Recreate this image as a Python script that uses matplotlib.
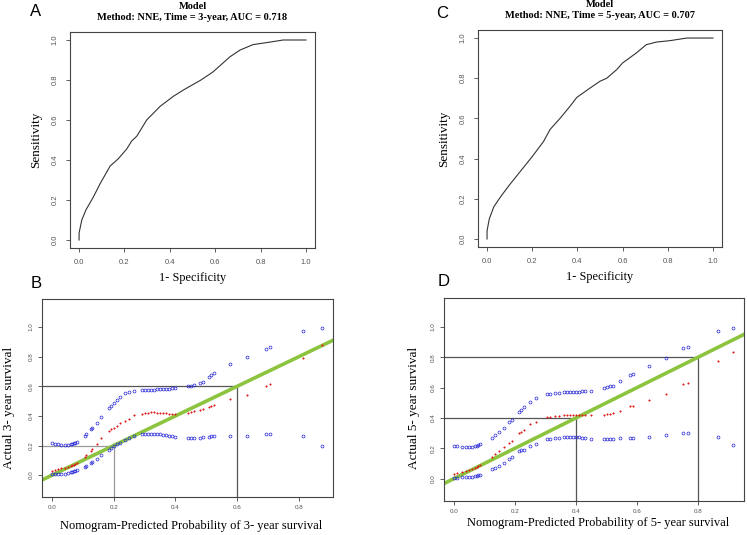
import matplotlib
matplotlib.use('Agg')
import matplotlib.pyplot as plt

# ROC curves
fpr_3 = [0.0, 0.0, 0.012, 0.03, 0.063, 0.092, 0.137, 0.172, 0.21, 0.232, 0.255, 0.298,
         0.357, 0.415, 0.46, 0.503, 0.533, 0.59, 0.665, 0.71, 0.767, 0.827, 0.90, 1.0]
tpr_3 = [0.0, 0.035, 0.10, 0.15, 0.215, 0.28, 0.37, 0.405, 0.455, 0.495, 0.52, 0.60,
         0.668, 0.718, 0.75, 0.778, 0.797, 0.84, 0.916, 0.95, 0.977, 0.987, 1.0, 1.0]
fpr_5 = [0.0, 0.0, 0.01, 0.03, 0.06, 0.10, 0.15, 0.20, 0.25, 0.279, 0.323, 0.367,
         0.397, 0.448, 0.50, 0.53, 0.574, 0.60, 0.66, 0.705, 0.75, 0.81, 0.884, 1.0]
tpr_5 = [0.0, 0.04, 0.10, 0.16, 0.21, 0.27, 0.34, 0.41, 0.485, 0.545, 0.60, 0.66,
         0.704, 0.745, 0.785, 0.80, 0.843, 0.876, 0.925, 0.967, 0.98, 0.987, 1.0, 1.0]
auc_3 = 0.718
auc_5 = 0.707

# calibration, 3-year
pred_3 = [0.000, 0.010, 0.020, 0.030, 0.040, 0.050, 0.060, 0.065, 0.070, 0.075, 0.080,
          0.105, 0.110, 0.125, 0.130, 0.145, 0.160, 0.185, 0.190, 0.200, 0.210,
          0.220, 0.235, 0.250, 0.265, 0.290, 0.300, 0.310, 0.320, 0.330, 0.340,
          0.350, 0.360, 0.370, 0.380, 0.390, 0.400, 0.440, 0.450, 0.460, 0.480,
          0.490, 0.510, 0.515, 0.525, 0.577, 0.632, 0.693, 0.706, 0.814, 0.876]
upper_3 = [0.215, 0.21, 0.21, 0.205, 0.205, 0.205, 0.21, 0.21, 0.215, 0.22, 0.225,
           0.265, 0.275, 0.31, 0.32, 0.35, 0.39, 0.455, 0.465, 0.49, 0.51,
           0.53, 0.555, 0.56, 0.565, 0.575, 0.576, 0.577, 0.578, 0.578, 0.579,
           0.58, 0.58, 0.582, 0.584, 0.586, 0.59, 0.60, 0.603, 0.608, 0.62,
           0.63, 0.66, 0.675, 0.69, 0.75, 0.80, 0.855, 0.868, 0.975, 0.995]
mean_3 = [0.03, 0.035, 0.04, 0.045, 0.05, 0.055, 0.06, 0.065, 0.07, 0.075, 0.08,
          0.125, 0.135, 0.165, 0.175, 0.21, 0.25, 0.30, 0.31, 0.32, 0.335,
          0.35, 0.365, 0.38, 0.405, 0.415, 0.42, 0.422, 0.424, 0.424, 0.423,
          0.422, 0.42, 0.418, 0.416, 0.414, 0.412, 0.418, 0.425, 0.43, 0.44,
          0.445, 0.46, 0.465, 0.475, 0.515, 0.54, 0.60, 0.615, 0.79, 0.88]
lower_3 = [0.005, 0.005, 0.005, 0.008, 0.01, 0.013, 0.018, 0.02, 0.025, 0.03, 0.035,
           0.055, 0.06, 0.085, 0.09, 0.11, 0.135, 0.17, 0.18, 0.20, 0.21,
           0.22, 0.235, 0.25, 0.262, 0.275, 0.278, 0.28, 0.28, 0.28, 0.278,
           0.275, 0.272, 0.27, 0.266, 0.262, 0.258, 0.252, 0.25, 0.25, 0.252,
           0.255, 0.26, 0.262, 0.262, 0.262, 0.265, 0.275, 0.275, 0.262, 0.195]

# calibration, 5-year
pred_5 = [0.000, 0.010, 0.026, 0.040, 0.050, 0.060, 0.070, 0.075, 0.080, 0.085,
          0.125, 0.135, 0.148, 0.165, 0.180, 0.190, 0.213, 0.220, 0.230, 0.250, 0.270,
          0.305, 0.315, 0.330, 0.345, 0.360, 0.370, 0.380, 0.390, 0.400, 0.410, 0.420,
          0.430, 0.450, 0.490, 0.500, 0.510, 0.520, 0.545, 0.577, 0.585, 0.640, 0.695,
          0.750, 0.765, 0.866, 0.915]
upper_5 = [0.217, 0.215, 0.21, 0.205, 0.205, 0.208, 0.212, 0.217, 0.22, 0.225,
           0.27, 0.29, 0.31, 0.33, 0.375, 0.385, 0.44, 0.455, 0.47, 0.505, 0.53,
           0.555, 0.56, 0.565, 0.567, 0.568, 0.569, 0.57, 0.57, 0.571, 0.572, 0.574,
           0.576, 0.58, 0.60, 0.605, 0.608, 0.612, 0.645, 0.685, 0.69, 0.74, 0.795,
           0.86, 0.87, 0.97, 0.99]
mean_5 = [0.03, 0.035, 0.04, 0.05, 0.055, 0.065, 0.072, 0.078, 0.085, 0.09,
          0.145, 0.16, 0.18, 0.205, 0.235, 0.25, 0.30, 0.31, 0.32, 0.36, 0.375,
          0.405, 0.408, 0.41, 0.415, 0.418, 0.42, 0.42, 0.42, 0.42, 0.42, 0.42,
          0.42, 0.42, 0.42, 0.425, 0.428, 0.43, 0.445, 0.475, 0.48, 0.52, 0.56,
          0.62, 0.63, 0.775, 0.835]
lower_5 = [0.005, 0.005, 0.008, 0.01, 0.01, 0.012, 0.015, 0.02, 0.022, 0.025,
           0.06, 0.07, 0.085, 0.10, 0.13, 0.14, 0.18, 0.185, 0.19, 0.215, 0.23,
           0.26, 0.262, 0.265, 0.27, 0.275, 0.276, 0.277, 0.276, 0.274, 0.272, 0.268,
           0.265, 0.26, 0.258, 0.26, 0.26, 0.262, 0.265, 0.27, 0.27, 0.277, 0.29,
           0.30, 0.30, 0.277, 0.22]

W, H = 747, 535
fig = plt.figure(figsize=(W / 100, H / 100), dpi=100)

serif = 'Liberation Serif'
sans = 'Liberation Sans'


def box(x0, y0, x1, y1):
    return [x0 / W, 1 - y1 / H, (x1 - x0) / W, (y1 - y0) / H]


def put(x, y, s, **kw):
    # text placed in reference pixel coordinates
    fig.text(x / W, 1 - y / H, s, ha='center', va='center', **kw)


def style_axes(ax, size, pad):
    for s in ax.spines.values():
        s.set_color('#444444')
        s.set_linewidth(0.8)
    ax.tick_params(colors='#444444', labelsize=size, length=3, width=0.6, pad=pad,
                   labelcolor='#555555')
    for lab in ax.get_xticklabels() + ax.get_yticklabels():
        lab.set_family(sans)
    for lab in ax.get_yticklabels():
        lab.set_rotation(90)
        lab.set_va('center')


def roc_panel(rect, fpr, tpr, years, auc, letter, lx, ly):
    ax = fig.add_axes(box(*rect))
    ax.plot(fpr, tpr, color='#333333', lw=0.8)
    ax.set_xlim(-0.04, 1.04)
    ax.set_ylim(-0.04, 1.04)
    ax.set_xticks([0, 0.2, 0.4, 0.6, 0.8, 1.0])
    ax.set_yticks([0, 0.2, 0.4, 0.6, 0.8, 1.0])
    ax.set_xticklabels(['0.0', '0.2', '0.4', '0.6', '0.8', '1.0'])
    ax.set_yticklabels(['0.0', '0.2', '0.4', '0.6', '0.8', '1.0'])
    style_axes(ax, 5.5, 5)
    ax.set_title('Model\nMethod: NNE, Time = %d-year, AUC = %.3f' % (years, auc),
                 family=serif, fontweight='bold', fontsize=7.5, pad=9, linespacing=1.15)
    ax.set_xlabel('1- Specificity', family=serif, fontsize=8.8, labelpad=4)
    ax.set_ylabel('Sensitivity', family=serif, fontsize=9.5, labelpad=7)
    put(lx, ly, letter, family=sans, fontsize=12)
    return ax


def calib_panel(rect, pred, lower, mean, upper, years, cuts, letter, lx, ly, ylab_x, xlab_y):
    ax = fig.add_axes(box(*rect))
    xmax = max(pred) + 0.035
    ax.set_xlim(-0.033, xmax)
    ax.set_ylim(-0.148, 1.19)
    for c, col in cuts:
        ax.plot([-0.033, c], [c, c], color=col, lw=0.9, zorder=1)
        ax.plot([c, c], [-0.148, c], color=col, lw=0.9, zorder=1)
    ax.axline((0, 0), slope=1, color='#8cc43f', lw=2.6, zorder=2)
    ax.plot(pred, upper, 'o', ms=2.1, mfc='none', mec='#2727d8', mew=0.5, zorder=3)
    ax.plot(pred, lower, 'o', ms=2.1, mfc='none', mec='#2727d8', mew=0.5, zorder=3)
    ax.plot(pred, mean, 'o', ms=1.1, mfc='#e01c1c', mec='#e01c1c', mew=0.3, zorder=3)
    ax.set_xticks([0, 0.2, 0.4, 0.6, 0.8])
    ax.set_yticks([0, 0.2, 0.4, 0.6, 0.8, 1.0])
    ax.set_xticklabels(['0.0', '0.2', '0.4', '0.6', '0.8'])
    ax.set_yticklabels(['0.0', '0.2', '0.4', '0.6', '0.8', '1.0'])
    style_axes(ax, 4.5, 3)
    mid = (rect[0] + rect[2]) / 2
    put(mid + 4, xlab_y, 'Nomogram-Predicted Probability of %d- year survival' % years,
        family=serif, fontsize=9)
    put(ylab_x, 408, 'Actual %d- year survival' % years, family=serif, fontsize=9.5,
        rotation=90)
    put(lx, ly, letter, family=sans, fontsize=12)
    return ax


roc_panel((70, 32, 315, 248), fpr_3, tpr_3, 3, auc_3, 'A', 36, 12)
roc_panel((478, 30, 722, 247), fpr_5, tpr_5, 5, auc_5, 'C', 442, 13)
calib_panel((42, 299, 333, 497), pred_3, lower_3, mean_3, upper_3, 3,
            [(0.6, '#555555'), (0.2, '#999999')], 'B', 36, 284, 9, 526)
calib_panel((444, 298, 744, 501), pred_5, lower_5, mean_5, upper_5, 5,
            [(0.8, '#555555'), (0.4, '#555555')], 'D', 444, 282, 414, 523)

fig.savefig('out.png', dpi=100)
